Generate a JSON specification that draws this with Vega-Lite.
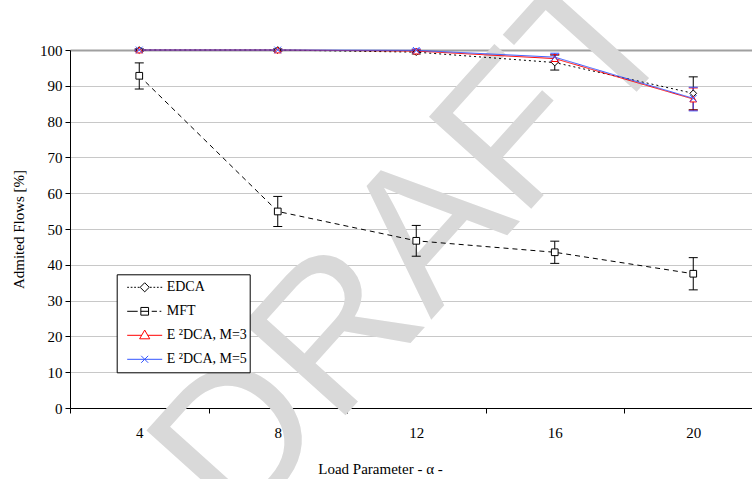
{
  "$schema": "https://vega.github.io/schema/vega-lite/v6.json",
  "width": 692.5,
  "height": 358,
  "autosize": "none",
  "padding": {"left": 70, "top": 50, "right": 0, "bottom": 71},
  "background": "white",
  "config": {
    "font": "Liberation Serif, Times New Roman, serif",
    "view": {"stroke": null},
    "axis": {"labelFont": "Liberation Serif, Times New Roman, serif", "titleFont": "Liberation Serif, Times New Roman, serif"},
    "legend": {"labelFont": "Liberation Serif, Times New Roman, serif"},
    "axisY": {
      "values": [0, 10, 20, 30, 40, 50, 60, 70, 80, 90, 100],
      "labelOverlap": false,
      "grid": true,
      "gridColor": {"condition": {"test": "datum.value === 100", "value": "#a0a0a0"}, "value": "#c8c8c8"},
      "gridWidth": {"condition": {"test": "datum.value === 100", "value": 2}, "value": 1},
      "domainColor": "#000", "tickColor": "#000", "tickSize": 5, "labelPadding": 3,
      "labelFontSize": 15, "labelColor": "#000",
      "titleFontSize": 15, "titleFontWeight": "normal", "titleColor": "#000",
      "titleX": -52, "titleY": 179, "titleBaseline": "middle", "titleAngle": -90, "titleAlign": "center"
    }
  },
  "data": {"values": [
    {"alpha": 4, "series": "EDCA", "y": 100, "lo": 99.7, "hi": 100.3},
    {"alpha": 8, "series": "EDCA", "y": 100, "lo": 99.7, "hi": 100.3},
    {"alpha": 12, "series": "EDCA", "y": 99.4, "lo": 98.9, "hi": 99.9},
    {"alpha": 16, "series": "EDCA", "y": 96.5, "lo": 94.4, "hi": 98.6},
    {"alpha": 20, "series": "EDCA", "y": 87.9, "lo": 83.3, "hi": 92.5},
    {"alpha": 4, "series": "MFT", "y": 92.8, "lo": 89.1, "hi": 96.4},
    {"alpha": 8, "series": "MFT", "y": 54.9, "lo": 50.7, "hi": 59.1},
    {"alpha": 12, "series": "MFT", "y": 46.7, "lo": 42.4, "hi": 51.0},
    {"alpha": 16, "series": "MFT", "y": 43.5, "lo": 40.4, "hi": 46.6},
    {"alpha": 20, "series": "MFT", "y": 37.5, "lo": 33.0, "hi": 42.0},
    {"alpha": 4, "series": "E ²DCA, M=3", "y": 100, "lo": 99.8, "hi": 100.2},
    {"alpha": 8, "series": "E ²DCA, M=3", "y": 100, "lo": 99.8, "hi": 100.2},
    {"alpha": 12, "series": "E ²DCA, M=3", "y": 99.7, "lo": 99.3, "hi": 100.1},
    {"alpha": 16, "series": "E ²DCA, M=3", "y": 97.6, "lo": 96.5, "hi": 98.7},
    {"alpha": 20, "series": "E ²DCA, M=3", "y": 86.3, "lo": 83.2, "hi": 89.4},
    {"alpha": 4, "series": "E ²DCA, M=5", "y": 100, "lo": 99.8, "hi": 100.2},
    {"alpha": 8, "series": "E ²DCA, M=5", "y": 100, "lo": 99.8, "hi": 100.2},
    {"alpha": 12, "series": "E ²DCA, M=5", "y": 99.9, "lo": 99.5, "hi": 100.3},
    {"alpha": 16, "series": "E ²DCA, M=5", "y": 98.0, "lo": 96.9, "hi": 99.1},
    {"alpha": 20, "series": "E ²DCA, M=5", "y": 86.5, "lo": 83.0, "hi": 89.6}
  ]},
  "encoding": {
    "x": {
      "field": "alpha", "type": "ordinal",
      "scale": {"type": "band", "paddingInner": 0, "paddingOuter": 0},
      "axis": {
        "title": "Load Parameter -  α  -", "tickBand": "extent", "labelAngle": 0,
        "domainColor": "#000", "tickColor": "#000", "tickSize": 5,
        "labelPadding": 12, "labelFontSize": 15, "labelColor": "#000",
        "titleFontSize": 15, "titleFontWeight": "normal", "titleColor": "#000",
        "titleX": 310, "titleY": 60, "titleBaseline": "middle", "titleAlign": "center",
        "grid": false
      }
    }
  },
  "resolve": {"legend": {"shape": "independent", "stroke": "independent", "strokeDash": "independent", "fill": "independent"}},
  "layer": [
    {
      "data": {"values": [{"mark": "DRAFT"}]},
      "mark": {"type": "text", "font": "Liberation Sans", "fontSize": 200, "angle": -48, "align": "center", "baseline": "middle", "color": "#d9d9d9"},
      "encoding": {
        "x": {"datum": 12},
        "y": {"datum": 45, "type": "quantitative", "scale": {"domain": [0, 100], "nice": false}, "title": "Admited Flows [%]"},
        "text": {"field": "mark"}
      }
    },
    {
      "mark": {"type": "rule", "strokeWidth": 1},
      "encoding": {
        "y": {"field": "lo", "type": "quantitative", "title": "Admited Flows [%]"},
        "y2": {"field": "hi"},
        "stroke": {
          "field": "series", "type": "nominal", "sort": null,
          "scale": {"domain": ["EDCA", "MFT", "E ²DCA, M=3", "E ²DCA, M=5"], "range": ["#000000", "#000000", "#ff0000", "#3355ff"]},
          "legend": null
        }
      }
    },
    {
      "mark": {"type": "tick", "size": 9, "thickness": 1, "opacity": 1},
      "encoding": {
        "y": {"field": "lo", "type": "quantitative", "title": "Admited Flows [%]"},
        "fill": {
          "field": "series", "type": "nominal", "sort": null,
          "scale": {"domain": ["EDCA", "MFT", "E ²DCA, M=3", "E ²DCA, M=5"], "range": ["#000000", "#000000", "#ff0000", "#3355ff"]},
          "legend": null
        }
      }
    },
    {
      "mark": {"type": "tick", "size": 9, "thickness": 1, "opacity": 1},
      "encoding": {
        "y": {"field": "hi", "type": "quantitative", "title": "Admited Flows [%]"},
        "fill": {
          "field": "series", "type": "nominal", "sort": null,
          "scale": {"domain": ["EDCA", "MFT", "E ²DCA, M=3", "E ²DCA, M=5"], "range": ["#000000", "#000000", "#ff0000", "#3355ff"]},
          "legend": null
        }
      }
    },
    {
      "mark": {"type": "line", "strokeWidth": 1},
      "encoding": {
        "y": {"field": "y", "type": "quantitative", "title": "Admited Flows [%]"},
        "color": {
          "field": "series", "type": "nominal", "sort": null,
          "scale": {"domain": ["EDCA", "MFT", "E ²DCA, M=3", "E ²DCA, M=5"], "range": ["#000000", "#000000", "#ff0000", "#3355ff"]},
          "legend": {
            "orient": "none", "legendX": 46.7, "legendY": 224.3, "title": null,
            "strokeColor": "#000", "fillColor": "#fff", "padding": 2,
            "symbolSize": 1225, "clipHeight": 22, "rowPadding": 2,
            "symbolOffset": 8, "labelOffset": 4,
            "labelFontSize": 14, "labelColor": "#000",
            "symbolStrokeWidth": 1, "symbolFillColor": "#ffffff",
            "labelExpr": "datum.label + '\u00a0'",
            "encode": {"symbols": {
              "enter": {"fill": {"value": "#ffffff"}},
              "update": {
              "shape": {"signal": "datum.value === 'EDCA' ? 'M-1,0L-0.9,0M-0.8,0L-0.7,0M-0.6,0L-0.5,0M-0.4,0L-0.3,0M0,-0.26L0.26,0L0,0.26L-0.26,0ZM0.3,0L0.4,0M0.5,0L0.6,0M0.7,0L0.8,0M0.9,0L1,0' : datum.value === 'MFT' ? 'M-1,0L-0.4,0M-0.22,-0.22L0.22,-0.22L0.22,0.22L-0.22,0.22ZM-0.22,0L0.22,0M0.4,0L0.7,0M0.85,0L0.95,0' : datum.value === 'E ²DCA, M=3' ? 'M-1,0L-0.17,0M0.17,0L1,0M0,-0.3L0.29,0.2L-0.29,0.2Z' : 'M-1,0L1,0M-0.2,-0.2L0.2,0.2M0.2,-0.2L-0.2,0.2'"},
              "fill": {"value": "#ffffff"},
              "strokeDash": {"value": []},
              "opacity": {"value": 1}
            }}}
          }
        },
        "strokeDash": {
          "field": "series", "type": "nominal", "sort": null,
          "scale": {"domain": ["EDCA", "MFT", "E ²DCA, M=3", "E ²DCA, M=5"], "range": [[2, 3], [5, 4], [1, 0], [1, 0]]},
          "legend": null
        }
      }
    },
    {
      "mark": {"type": "point", "filled": true, "fill": "#ffffff", "strokeWidth": 1, "size": 45, "opacity": 1},
      "encoding": {
        "y": {"field": "y", "type": "quantitative", "title": "Admited Flows [%]"},
        "stroke": {
          "field": "series", "type": "nominal", "sort": null,
          "scale": {"domain": ["EDCA", "MFT", "E ²DCA, M=3", "E ²DCA, M=5"], "range": ["#000000", "#000000", "#ff0000", "#3355ff"]},
          "legend": null
        },
        "shape": {
          "field": "series", "type": "nominal", "sort": null,
          "scale": {"domain": ["EDCA", "MFT", "E ²DCA, M=3", "E ²DCA, M=5"], "range": ["diamond", "square", "triangle-up", "M-1,-1L1,1M1,-1L-1,1"]},
          "legend": null
        }
      }
    }
  ]
}
